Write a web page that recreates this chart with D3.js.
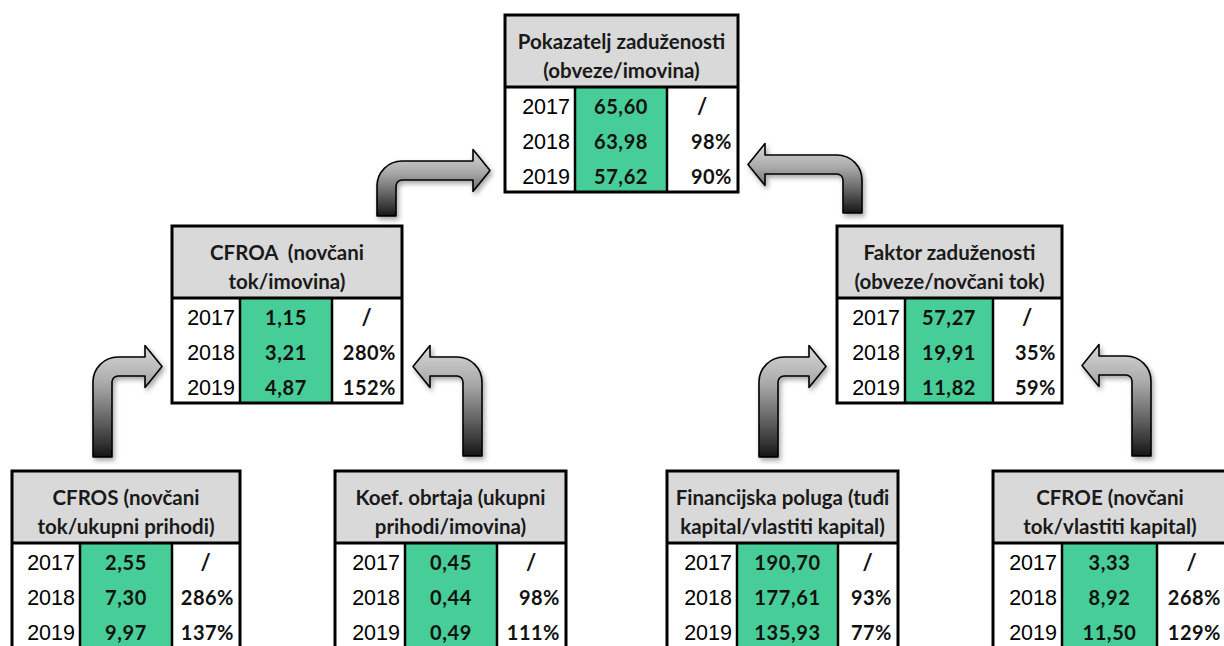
<!DOCTYPE html>
<html lang="hr">
<head>
<meta charset="UTF-8" />
<title>Pokazatelji zaduženosti</title>
<script src="https://d3js.org/d3.v7.min.js"></script>
<style>
  body { margin: 0; background: #fff; }
  svg { display: block; }
  text { white-space: pre; }
</style>
</head>
<body>
<div id="chart"></div>
<script>
  // data
  const years = ["2017", "2018", "2019"]

  const debtRatioTitle = ["Pokazatelj zaduženosti", "(obveze/imovina)"]
  const debtRatio = [65.60, 63.98, 57.62]
  const debtRatioPct = ["/", "98%", "90%"]

  const cfroaTitle = ["CFROA  (novčani", "tok/imovina)"]
  const cfroa = [1.15, 3.21, 4.87]
  const cfroaPct = ["/", "280%", "152%"]

  const debtFactorTitle = ["Faktor zaduženosti", "(obveze/novčani tok)"]
  const debtFactor = [57.27, 19.91, 11.82]
  const debtFactorPct = ["/", "35%", "59%"]

  const cfrosTitle = ["CFROS (novčani", "tok/ukupni prihodi)"]
  const cfros = [2.55, 7.30, 9.97]
  const cfrosPct = ["/", "286%", "137%"]

  const turnoverTitle = ["Koef. obrtaja (ukupni", "prihodi/imovina)"]
  const turnover = [0.45, 0.44, 0.49]
  const turnoverPct = ["/", "98%", "111%"]

  const leverageTitle = ["Financijska poluga (tuđi", "kapital/vlastiti kapital)"]
  const leverage = [190.70, 177.61, 135.93]
  const leveragePct = ["/", "93%", "77%"]

  const cfroeTitle = ["CFROE (novčani", "tok/vlastiti kapital)"]
  const cfroe = [3.33, 8.92, 11.50]
  const cfroePct = ["/", "268%", "129%"]

  // layout
  const W = 1224, H = 646
  const HEADER = 72, ROW = 35

  const boxes = [
    { title: debtRatioTitle, values: debtRatio, pct: debtRatioPct, x: 505, y: 15, cols: [70, 92, 71] },
    { title: cfroaTitle, values: cfroa, pct: cfroaPct, x: 172, y: 226, cols: [68, 92, 70] },
    { title: debtFactorTitle, values: debtFactor, pct: debtFactorPct, x: 837, y: 226, cols: [68, 88, 69] },
    { title: cfrosTitle, values: cfros, pct: cfrosPct, x: 12, y: 471, cols: [68, 92, 68] },
    { title: turnoverTitle, values: turnover, pct: turnoverPct, x: 335, y: 471, cols: [70, 92, 69] },
    { title: leverageTitle, values: leverage, pct: leveragePct, x: 667, y: 471, cols: [70, 101, 60] },
    { title: cfroeTitle, values: cfroe, pct: cfroePct, x: 993, y: 471, cols: [69, 95, 70] }
  ]

  // bent arrows: vertical shaft [x0, x0+SHAFT] from yb up, horizontal shaft [ht, hb], tip at tx
  const arrows = [
    { x0: 377, yb: 216, ht: 161, hb: 180, tx: 490, dir: 1 },
    { x0: 843, yb: 213, ht: 155, hb: 174, tx: 748, dir: -1 },
    { x0: 93, yb: 457, ht: 357, hb: 376, tx: 162, dir: 1 },
    { x0: 463, yb: 456, ht: 357, hb: 376, tx: 413, dir: -1 },
    { x0: 759, yb: 457, ht: 357, hb: 376, tx: 826, dir: 1 },
    { x0: 1132, yb: 456, ht: 356, hb: 375, tx: 1082, dir: -1 }
  ]

  const fmt = d3.format(".2f")
  const numFmt = (v) => fmt(v).replace(".", ",")

  const svg = d3
    .select("#chart")
    .append("svg")
    .attr("width", W)
    .attr("height", H)

  const defs = svg.append("defs")

  const grad = defs
    .append("linearGradient")
    .attr("id", "arrowGrad")
    .attr("x1", 0).attr("y1", 0)
    .attr("x2", 0).attr("y2", 1)
  grad.append("stop").attr("offset", "0%").attr("stop-color", "#d8d8d8")
  grad.append("stop").attr("offset", "35%").attr("stop-color", "#a8a8a8")
  grad.append("stop").attr("offset", "70%").attr("stop-color", "#5c5c5c")
  grad.append("stop").attr("offset", "100%").attr("stop-color", "#161616")

  const shadow = defs
    .append("filter")
    .attr("id", "shadow")
    .attr("x", "-30%").attr("y", "-30%")
    .attr("width", "160%").attr("height", "160%")
  shadow
    .append("feDropShadow")
    .attr("dx", 2).attr("dy", 3)
    .attr("stdDeviation", 2.5)
    .attr("flood-color", "#000")
    .attr("flood-opacity", 0.35)

  // arrows
  const SHAFT = 19, HEAD_LEN = 17, HEAD_HALF = 21, R = 25, r = 6

  function arrowPath(a) {
    const p = d3.path()
    const cy = (a.ht + a.hb) / 2
    const hx = a.tx - a.dir * HEAD_LEN
    const x0 = a.x0, x1 = a.x0 + SHAFT
    // outer edge is on the side away from the head
    const outer = a.dir > 0 ? x0 : x1
    const inner = a.dir > 0 ? x1 : x0
    p.moveTo(outer, a.yb)
    p.lineTo(outer, a.ht + R)
    p.arcTo(outer, a.ht, outer + a.dir * R, a.ht, R)
    p.lineTo(hx, a.ht)
    p.lineTo(hx, cy - HEAD_HALF)
    p.lineTo(a.tx, cy)
    p.lineTo(hx, cy + HEAD_HALF)
    p.lineTo(hx, a.hb)
    p.lineTo(inner + a.dir * r, a.hb)
    p.arcTo(inner, a.hb, inner, a.hb + r, r)
    p.lineTo(inner, a.yb)
    p.closePath()
    return p.toString()
  }

  svg
    .append("g")
    .selectAll("path")
    .data(arrows)
    .join("path")
    .attr("d", arrowPath)
    .attr("fill", "url(#arrowGrad)")
    .attr("stroke", "#000")
    .attr("stroke-width", 1.6)
    .attr("stroke-linejoin", "round")
    .attr("filter", "url(#shadow)")

  // boxes
  const box = svg
    .append("g")
    .selectAll("g.box")
    .data(boxes)
    .join("g")
    .attr("class", "box")
    .attr("transform", (d) => `translate(${d.x},${d.y})`)

  box.each(function (d) {
    const g = d3.select(this)
    const colX = [0, d.cols[0], d.cols[0] + d.cols[1]]
    const bw = d3.sum(d.cols)
    const bh = HEADER + ROW * years.length

    const rowY = d3
      .scaleBand()
      .domain(years)
      .range([HEADER, bh])

    g.append("rect")
      .attr("width", bw).attr("height", bh)
      .attr("fill", "#fff")

    g.append("rect")
      .attr("width", bw).attr("height", HEADER)
      .attr("fill", "#d9d9d9")

    g.append("rect")
      .attr("x", colX[1]).attr("y", HEADER)
      .attr("width", d.cols[1]).attr("height", bh - HEADER)
      .attr("fill", "#47cd97")

    // title
    g.selectAll("text.title")
      .data(d.title)
      .join("text")
      .attr("class", "title")
      .attr("x", bw / 2)
      .attr("y", (t, i) => 34 + i * 29)
      .attr("text-anchor", "middle")
      .attr("font-family", "Lato, 'Open Sans', sans-serif")
      .attr("font-weight", 700)
      .attr("font-size", 20.5)
      .attr("fill", "#1a1a1a")
      .text((t) => t)

    // years
    g.selectAll("text.year")
      .data(years)
      .join("text")
      .attr("class", "year")
      .attr("x", colX[1] - 5)
      .attr("y", (y) => rowY(y) + 27)
      .attr("text-anchor", "end")
      .attr("font-family", "'Liberation Sans', Arial, sans-serif")
      .attr("font-size", 21.5)
      .attr("fill", "#000")
      .text((y) => y)

    // values
    g.selectAll("text.val")
      .data(d.values)
      .join("text")
      .attr("class", "val")
      .attr("x", colX[1] + d.cols[1] / 2)
      .attr("y", (v, i) => rowY(years[i]) + 27)
      .attr("text-anchor", "middle")
      .attr("font-family", "Lato, 'Open Sans', sans-serif")
      .attr("font-weight", 700)
      .attr("font-size", 20)
      .attr("letter-spacing", 0.6)
      .attr("fill", "#111")
      .text(numFmt)

    // percentage change
    g.selectAll("text.pct")
      .data(d.pct)
      .join("text")
      .attr("class", "pct")
      .attr("x", (p) => (p === "/" ? colX[2] + d.cols[2] / 2 : bw - 6))
      .attr("y", (p, i) => rowY(years[i]) + 27)
      .attr("text-anchor", (p) => (p === "/" ? "middle" : "end"))
      .attr("font-family", "Lato, 'Open Sans', sans-serif")
      .attr("font-weight", 700)
      .attr("font-size", (p) => (p === "/" ? 22 : 20))
      .attr("letter-spacing", 0.5)
      .attr("fill", "#111")
      .text((p) => p)

    // grid lines
    g.append("line")
      .attr("x1", 0).attr("x2", bw)
      .attr("y1", HEADER).attr("y2", HEADER)
      .attr("stroke", "#000").attr("stroke-width", 3)

    g.selectAll("line.col")
      .data([colX[1], colX[2]])
      .join("line")
      .attr("class", "col")
      .attr("x1", (x) => x).attr("x2", (x) => x)
      .attr("y1", HEADER).attr("y2", bh)
      .attr("stroke", "#000").attr("stroke-width", 2.5)

    g.append("rect")
      .attr("width", bw).attr("height", bh)
      .attr("fill", "none")
      .attr("stroke", "#000")
      .attr("stroke-width", 3)
  })
</script>
</body>
</html>
